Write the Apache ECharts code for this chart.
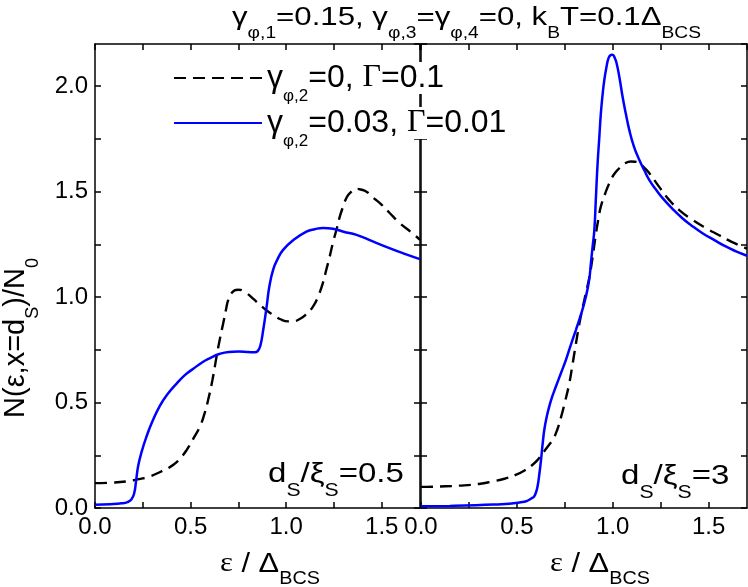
<!DOCTYPE html>
<html><head><meta charset="utf-8">
<script src="https://cdn.jsdelivr.net/npm/echarts@6/dist/echarts.min.js"></script>
<style>html,body{margin:0;padding:0;background:#fff}#c{width:748px;height:587px}</style>
</head><body><div id="c"></div>
<script>
// ---- data ----
const epsLeftDashed = [0.00,0.08,0.165,0.23,0.287,0.35,0.41,0.45,0.48,0.515,0.549,0.572,0.592,0.615,0.636,0.655,0.671,0.685,0.697,0.715,0.749,0.775,0.793,0.83,0.862,0.90,0.932,0.97,1.01,1.04,1.071,1.10,1.141,1.17,1.193,1.21,1.228,1.245,1.263,1.28,1.298,1.315,1.333,1.368,1.39,1.42,1.45,1.49,1.54,1.594,1.65,1.70];
const nLeftDashed   = [0.118,0.12,0.126,0.137,0.15,0.175,0.205,0.24,0.276,0.33,0.387,0.445,0.513,0.61,0.719,0.81,0.877,0.94,0.987,1.02,1.035,1.03,1.019,0.99,0.964,0.935,0.916,0.895,0.885,0.886,0.896,0.915,0.956,1.01,1.07,1.13,1.193,1.26,1.319,1.38,1.43,1.47,1.493,1.513,1.51,1.50,1.475,1.446,1.40,1.351,1.31,1.272];
const epsLeftBlue = [0.00,0.08,0.14,0.17,0.19,0.205,0.215,0.226,0.245,0.27,0.30,0.34,0.38,0.427,0.47,0.514,0.56,0.60,0.65,0.70,0.75,0.80,0.836,0.852,0.865,0.88,0.897,0.912,0.932,0.955,0.984,1.037,1.106,1.15,1.193,1.245,1.30,1.368,1.45,1.54,1.62,1.70];
const nLeftBlue   = [0.016,0.018,0.022,0.028,0.04,0.07,0.13,0.20,0.27,0.34,0.41,0.485,0.54,0.59,0.63,0.66,0.69,0.71,0.73,0.74,0.742,0.74,0.738,0.745,0.77,0.845,0.95,1.05,1.13,1.18,1.224,1.27,1.31,1.322,1.328,1.324,1.31,1.295,1.265,1.232,1.205,1.18];
const epsRightDashed = [0.00,0.10,0.20,0.30,0.374,0.44,0.496,0.54,0.582,0.61,0.635,0.66,0.687,0.71,0.73,0.75,0.773,0.79,0.808,0.825,0.843,0.86,0.877,0.895,0.912,0.925,0.938,0.96,0.982,1.005,1.034,1.06,1.095,1.115,1.138,1.165,1.19,1.24,1.294,1.35,1.416,1.48,1.555,1.62,1.70];
const nRightDashed   = [0.10,0.102,0.106,0.114,0.126,0.14,0.158,0.178,0.205,0.23,0.26,0.29,0.324,0.37,0.43,0.50,0.59,0.68,0.78,0.87,0.95,1.02,1.09,1.19,1.30,1.37,1.43,1.49,1.54,1.58,1.611,1.632,1.643,1.642,1.635,1.613,1.588,1.525,1.461,1.41,1.366,1.33,1.293,1.262,1.23];
const epsRightBlue = [0.00,0.15,0.287,0.40,0.46,0.52,0.548,0.575,0.59,0.60,0.608,0.617,0.626,0.635,0.643,0.655,0.669,0.685,0.704,0.73,0.756,0.78,0.808,0.835,0.86,0.877,0.886,0.895,0.904,0.912,0.921,0.93,0.938,0.947,0.956,0.967,0.978,0.99,0.999,1.01,1.02,1.035,1.051,1.068,1.086,1.11,1.138,1.165,1.19,1.225,1.26,1.31,1.363,1.41,1.468,1.53,1.589,1.64,1.70];
const nRightBlue   = [0.008,0.01,0.013,0.017,0.02,0.027,0.032,0.045,0.055,0.075,0.103,0.16,0.229,0.31,0.371,0.43,0.482,0.53,0.577,0.64,0.703,0.77,0.845,0.92,1.003,1.082,1.161,1.24,1.319,1.47,1.635,1.76,1.872,1.96,2.03,2.09,2.133,2.148,2.149,2.135,2.109,2.04,1.951,1.87,1.793,1.715,1.651,1.6,1.556,1.51,1.469,1.42,1.374,1.34,1.303,1.27,1.24,1.218,1.196];
const xTickLabels = ['0.0','0.5','1.0','1.5'];
const yTickLabels = ['0.0','0.5','1.0','1.5','2.0'];
const seriesNames = ['γφ,2=0, Γ=0.1','γφ,2=0.03, Γ=0.01'];
const legendText = ['{m|γ}{s|φ,2}{m|=0, }{g|Γ}{m|=0.1}', '{m|γ}{s|φ,2}{m|=0.03, }{g|Γ}{m|=0.01}'];

// ---- styling ----
const FONT = 'Liberation Sans';
const SERIF = 'Liberation Serif';
function rich(main, sub, pad) {
  return {
    m: {fontFamily: FONT, fontSize: main, lineHeight: main, verticalAlign: 'top', color: '#000'},
    g: {fontFamily: SERIF, fontSize: main, lineHeight: main, verticalAlign: 'top', color: '#000'},
    s: {fontFamily: FONT, fontSize: sub, lineHeight: sub, verticalAlign: 'top', padding: [pad, 0, 0, 0], color: '#000'}
  };
}
function fmt(labels) {
  return function (v) {
    const s = v.toFixed(1);
    return (Math.abs(v * 2 - Math.round(v * 2)) < 1e-6 && labels.indexOf(s) >= 0) ? s : '';
  };
}
const lineCol = '#000';
function xAxis(grid, pos, showLabel) {
  return {
    type: 'value', gridIndex: grid, position: pos, min: 0, max: 1.7, interval: 0.25,
    axisLine: {show: true, onZero: false, lineStyle: {color: lineCol, width: 1.5}},
    axisTick: {show: true, inside: true, length: 6, lineStyle: {color: lineCol, width: 1.5}},
    axisLabel: {show: showLabel, formatter: fmt(xTickLabels), fontFamily: FONT, fontSize: 24, color: '#000', margin: 7, showMaxLabel: false, showMinLabel: true, hideOverlap: false},
    splitLine: {show: false}
  };
}
function yAxis(grid, pos, showLabel) {
  return {
    type: 'value', gridIndex: grid, position: pos, min: 0, max: 2.2, interval: 0.25,
    axisLine: {show: true, onZero: false, lineStyle: {color: lineCol, width: 1.5}},
    axisTick: {show: true, inside: true, length: 6, lineStyle: {color: lineCol, width: 1.5}},
    axisLabel: {show: showLabel, formatter: fmt(yTickLabels), fontFamily: FONT, fontSize: 24, color: '#000', margin: 7, showMaxLabel: false},
    splitLine: {show: false}
  };
}
function pairs(xs, ys) { return xs.map((x, i) => [x, ys[i]]); }
const dashStyle = {color: '#000', width: 2.4, type: [12, 7]};
const blueStyle = {color: '#0000ff', width: 2.5};
function line(name, xi, yi, data, style) {
  return {
    name: name, type: 'line', xAxisIndex: xi, yAxisIndex: yi, data: data,
    symbol: 'none', showSymbol: false, smooth: 0.5,
    lineStyle: style, itemStyle: {color: style.color}, animation: false, clip: true
  };
}

const chart = echarts.init(document.getElementById('c'), null, {renderer: 'canvas'});
chart.setOption({
  animation: false,
  backgroundColor: '#fff',
  grid: [
    {left: 95, top: 44, width: 325, height: 464, outerBoundsMode: 'none', containLabel: false},
    {left: 421, top: 44, width: 326, height: 464, outerBoundsMode: 'none', containLabel: false}
  ],
  xAxis: [xAxis(0, 'bottom', true), xAxis(0, 'top', false), xAxis(1, 'bottom', true), xAxis(1, 'top', false)],
  yAxis: [yAxis(0, 'left', true), yAxis(0, 'right', false), yAxis(1, 'left', false), yAxis(1, 'right', false)],
  legend: {
    orient: 'vertical', left: 173, top: 62, padding: 0, itemGap: 2,
    itemWidth: 88, itemHeight: 14,
    data: seriesNames,
    formatter: function (name) { return legendText[seriesNames.indexOf(name)]; },
    textStyle: {rich: rich(32, 17, 26), backgroundColor: '#fff'},
    itemStyle: {opacity: 0},
    selectedMode: false
  },
  series: [
    line(seriesNames[0], 0, 0, pairs(epsLeftDashed, nLeftDashed), dashStyle),
    line(seriesNames[1], 0, 0, pairs(epsLeftBlue, nLeftBlue), blueStyle),
    line(seriesNames[0], 2, 2, pairs(epsRightDashed, nRightDashed), dashStyle),
    line(seriesNames[1], 2, 2, pairs(epsRightBlue, nRightBlue), blueStyle)
  ],
  graphic: [
    {type: 'text', x: 232, y: 5, scaleX: 1.2, z: 10, style: {text: '{m|γ}{s|φ,1}{m|=0.15, γ}{s|φ,3}{m|=γ}{s|φ,4}{m|=0, k}{s|B}{m|T=0.1Δ}{s|BCS}', rich: rich(26, 16, 21), align: 'left', verticalAlign: 'top'}},
    {type: 'text', x: 268, y: 460, scaleX: 1.18, z: 10, style: {text: '{m|d}{s|S}{m|/ξ}{s|S}{m|=0.5}', rich: rich(28, 18, 22), align: 'left', verticalAlign: 'top'}},
    {type: 'text', x: 621, y: 462, scaleX: 1.18, z: 10, style: {text: '{m|d}{s|S}{m|/ξ}{s|S}{m|=3}', rich: rich(28, 18, 22), align: 'left', verticalAlign: 'top'}},
    {type: 'text', x: 220, y: 550, scaleX: 1.1, z: 10, style: {text: '{g|ε}{m| / Δ}{s|BCS}', rich: rich(28, 18, 20), align: 'left', verticalAlign: 'top'}},
    {type: 'text', x: 550, y: 550, scaleX: 1.1, z: 10, style: {text: '{g|ε}{m| / Δ}{s|BCS}', rich: rich(28, 18, 20), align: 'left', verticalAlign: 'top'}},
    {type: 'text', x: 1, y: 338, rotation: Math.PI / 2, z: 10, style: {text: '{m|N(ε,x=d}{s|S}{m|)/N}{s|0}', rich: rich(29, 18, 23), align: 'center', verticalAlign: 'top'}}
  ]
});
</script></body></html>
